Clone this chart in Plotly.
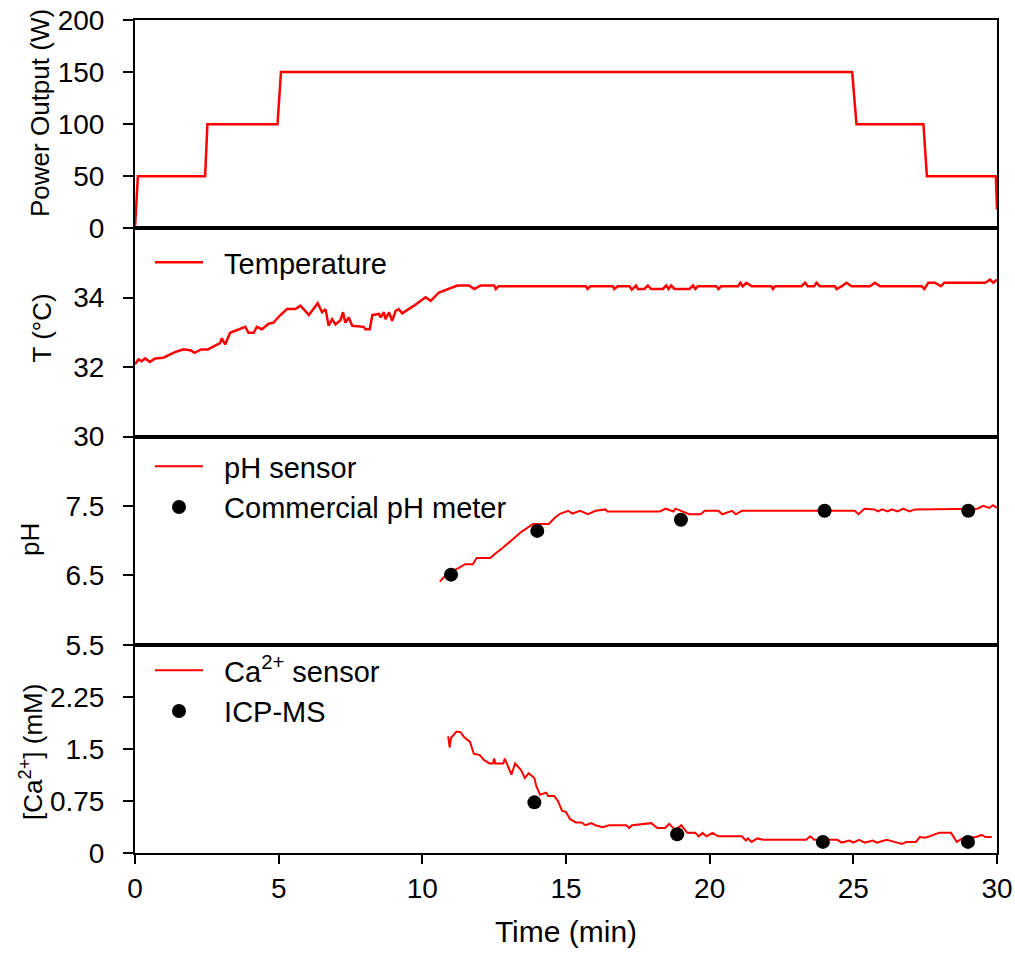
import plotly.graph_objects as go
from plotly.subplots import make_subplots

# ---------------- data ----------------
power_t = [0, 0.1, 2.44, 2.52, 4.96, 5.08, 24.96, 25.11, 27.44, 27.56, 29.96, 30.0]
power_w = [0, 50, 50, 100, 100, 150, 150, 100, 100, 50, 50, 18]

temp_t = [0, 0.12, 0.23, 0.35, 0.52, 0.7, 0.99, 1.22, 1.39, 1.69, 1.95, 2.07, 2.3, 2.53,
          2.96, 3.02, 3.14, 3.31, 3.6, 3.84, 3.95, 4.13, 4.24, 4.42, 4.65, 4.82, 5.06,
          5.29, 5.58, 5.76, 6.05, 6.36, 6.51, 6.63, 6.74, 6.86, 6.98, 7.15, 7.24, 7.32,
          7.44, 7.56, 7.96, 8.02, 8.17, 8.26, 8.49, 8.55, 8.66, 8.72, 8.84, 8.95, 9.07,
          9.18, 9.3, 9.47, 9.71, 10.11, 10.29, 10.58, 10.81, 11.22, 11.63, 11.8, 12.03,
          12.5, 12.56, 12.65, 15.7, 15.75, 15.85, 16.63, 16.68, 16.8, 17.21, 17.29, 17.38,
          17.44, 17.5, 17.73, 17.85, 17.96, 18.37, 18.49, 18.57, 18.66, 18.78, 19.3, 19.42,
          19.5, 19.6, 20.23, 20.31, 20.4, 20.99, 21.07, 21.15, 21.28, 21.46, 22.15, 22.2,
          22.28, 23.2, 23.32, 23.41, 23.64, 23.72, 23.83, 24.36, 24.42, 24.6, 24.76, 24.94,
          25.58, 25.75, 25.93, 27.38, 27.47, 27.61, 27.84, 28.05, 28.17, 29.59, 29.76,
          29.87, 30.0]
temp_c = [32.08, 32.22, 32.17, 32.25, 32.15, 32.25, 32.27, 32.36, 32.43, 32.51, 32.48,
          32.41, 32.51, 32.51, 32.69, 32.83, 32.65, 32.99, 33.09, 33.16, 32.99, 32.99,
          33.16, 33.09, 33.25, 33.28, 33.5, 33.67, 33.67, 33.77, 33.5, 33.84, 33.58, 33.67,
          33.19, 33.38, 33.23, 33.35, 33.58, 33.28, 33.43, 33.19, 33.16, 33.09, 33.09,
          33.5, 33.53, 33.43, 33.58, 33.38, 33.58, 33.33, 33.62, 33.67, 33.55, 33.64,
          33.77, 34.01, 33.91, 34.15, 34.22, 34.35, 34.35, 34.25, 34.35, 34.35, 34.25,
          34.33, 34.33, 34.25, 34.33, 34.33, 34.25, 34.33, 34.33, 34.23, 34.3, 34.35,
          34.25, 34.25, 34.35, 34.25, 34.25, 34.35, 34.25, 34.35, 34.25, 34.25, 34.35,
          34.25, 34.33, 34.33, 34.25, 34.33, 34.33, 34.43, 34.33, 34.43, 34.33, 34.33,
          34.25, 34.33, 34.33, 34.43, 34.33, 34.33, 34.43, 34.33, 34.33, 34.25, 34.33,
          34.43, 34.33, 34.33, 34.43, 34.33, 34.33, 34.25, 34.43, 34.43, 34.33, 34.43,
          34.43, 34.52, 34.43, 34.52]

ph_t = [10.61, 10.88, 11.29, 11.49, 11.76, 11.89, 12.37, 12.5, 12.78, 13.18, 13.46, 13.86,
        14.4, 14.61, 14.81, 15.08, 15.22, 15.49, 15.76, 16.03, 16.37, 16.44, 18.27, 18.47,
        18.74, 18.81, 19.02, 19.29, 19.69, 19.83, 20.3, 20.44, 20.78, 20.91, 21.12, 25.05,
        25.18, 25.39, 25.73, 25.86, 26.0, 26.2, 26.33, 26.54, 26.74, 26.95, 27.15, 29.32,
        29.52, 29.73, 29.86, 30.0]
ph_v = [6.41, 6.53, 6.61, 6.66, 6.66, 6.75, 6.75, 6.8, 6.89, 7.03, 7.13, 7.24, 7.24, 7.33,
        7.39, 7.43, 7.39, 7.43, 7.38, 7.43, 7.45, 7.42, 7.42, 7.46, 7.42, 7.46, 7.42, 7.38,
        7.38, 7.43, 7.43, 7.38, 7.43, 7.38, 7.43, 7.43, 7.38, 7.46, 7.45, 7.42, 7.45, 7.42,
        7.45, 7.42, 7.46, 7.42, 7.45, 7.46, 7.5, 7.47, 7.51, 7.47]

meter_t = [11, 14, 19, 24, 29]
meter_ph = [6.51, 7.14, 7.3, 7.43, 7.43]

ca_t = [10.9, 10.95, 11.0, 11.19, 11.33, 11.45, 11.66, 11.79, 12.0, 12.14, 12.34, 12.46,
        12.5, 12.54, 12.82, 12.87, 13.1, 13.23, 13.43, 13.57, 13.7, 13.9, 13.97, 14.1,
        14.31, 14.38, 14.59, 14.72, 14.86, 15.0, 15.14, 15.34, 15.54, 15.68, 15.88, 16.02,
        16.28, 16.5, 17.1, 17.2, 17.3, 17.97, 18.18, 18.45, 18.59, 18.81, 19.01, 19.22,
        19.5, 19.62, 19.75, 19.89, 20.1, 20.3, 21.12, 21.26, 21.33, 21.46, 21.66, 21.87,
        23.36, 23.5, 23.64, 24.45, 24.59, 24.87, 25.0, 25.2, 25.4, 25.68, 25.82, 26.16,
        26.43, 26.7, 26.84, 27.18, 27.31, 27.52, 27.72, 27.99, 28.4, 28.6, 28.8, 29.27,
        29.47, 29.6, 29.82]
ca_mm = [1.68, 1.52, 1.66, 1.75, 1.74, 1.67, 1.6, 1.43, 1.41, 1.34, 1.29, 1.29, 1.36, 1.29,
         1.29, 1.36, 1.13, 1.29, 1.2, 1.08, 1.15, 1.08, 0.96, 0.84, 0.87, 0.82, 0.82, 0.75,
         0.61, 0.59, 0.49, 0.44, 0.44, 0.4, 0.43, 0.4, 0.37, 0.4, 0.4, 0.36, 0.4, 0.43, 0.36,
         0.36, 0.42, 0.33, 0.4, 0.29, 0.29, 0.24, 0.29, 0.24, 0.29, 0.24, 0.24, 0.18, 0.21,
         0.16, 0.21, 0.19, 0.19, 0.24, 0.19, 0.19, 0.15, 0.18, 0.15, 0.19, 0.15, 0.18, 0.15,
         0.19, 0.16, 0.13, 0.16, 0.16, 0.23, 0.22, 0.25, 0.29, 0.29, 0.16, 0.21, 0.23, 0.26,
         0.23, 0.23]

icp_t = [13.9, 18.87, 23.94, 28.99]
icp_mm = [0.73, 0.27, 0.16, 0.16]

x_ticks = [0, 5, 10, 15, 20, 25, 30]
power_ticks = [0, 50, 100, 150, 200]
temp_ticks = [30, 32, 34]
ph_ticks = [5.5, 6.5, 7.5]
ca_ticks = [0, 0.75, 1.5, 2.25]
ca_ticktext = ["0", "0.75", "1.5", "2.25"]

y_titles = ["Power Output (W)", "T (°C)", "pH", "[Ca<sup>2+</sup>] (mM)"]

# ---------------- figure ----------------
FONT = "Liberation Sans, Arial, sans-serif"
RED = "#ff0000"
TICK_SIZE = 28
NB = "\u00a0\u00a0"

fig = make_subplots(rows=4, cols=1, shared_xaxes=True, vertical_spacing=0)

fig.add_trace(go.Scatter(x=power_t, y=power_w, mode="lines", line=dict(color=RED, width=2.5),
                         showlegend=False), row=1, col=1)
fig.add_trace(go.Scatter(x=temp_t, y=temp_c, mode="lines", line=dict(color=RED, width=2.5),
                         name=NB + "Temperature", legend="legend"), row=2, col=1)
fig.add_trace(go.Scatter(x=ph_t, y=ph_v, mode="lines", line=dict(color=RED, width=2),
                         name=NB + "pH sensor", legend="legend2"), row=3, col=1)
fig.add_trace(go.Scatter(x=meter_t, y=meter_ph, mode="markers",
                         marker=dict(color="black", size=14),
                         name=NB + "Commercial pH meter", legend="legend2"), row=3, col=1)
fig.add_trace(go.Scatter(x=ca_t, y=ca_mm, mode="lines", line=dict(color=RED, width=2),
                         name=NB + "Ca<sup>2+</sup> sensor", legend="legend3"), row=4, col=1)
fig.add_trace(go.Scatter(x=icp_t, y=icp_mm, mode="markers",
                         marker=dict(color="black", size=14),
                         name=NB + "ICP-MS", legend="legend3"), row=4, col=1)

axis_common = dict(showline=True, linecolor="black", linewidth=2, mirror=True,
                   showgrid=False, zeroline=False, automargin=False,
                   tickfont=dict(family=FONT, size=TICK_SIZE, color="black"))

for r in range(1, 5):
    fig.update_xaxes(range=[0, 30], row=r, col=1, **axis_common)
fig.update_xaxes(tickvals=x_ticks, ticks="outside", ticklen=9, tickwidth=2,
                 tickcolor="black", showticklabels=True,
                 title=dict(text="Time (min)", font=dict(family=FONT, size=30, color="black"),
                            standoff=18),
                 row=4, col=1)

ycommon = dict(ticks="outside", ticklen=10, tickwidth=2, tickcolor="black",
               ticklabelstandoff=13, **axis_common)
fig.update_yaxes(range=[0, 200], tickvals=power_ticks, row=1, col=1, **ycommon)
fig.update_yaxes(range=[30, 36], tickvals=temp_ticks, row=2, col=1, **ycommon)
fig.update_yaxes(range=[5.5, 8.5], tickvals=ph_ticks, row=3, col=1, **ycommon)
fig.update_yaxes(range=[0, 3], tickvals=ca_ticks, ticktext=ca_ticktext, row=4, col=1, **ycommon)

# y-axis titles placed as rotated annotations (paper coords)
title_x = [-0.1102, -0.1079, -0.1218, -0.1195]
title_y = [0.8884, 0.6309, 0.3758, 0.1213]
for txt, tx, ty in zip(y_titles, title_x, title_y):
    fig.add_annotation(text=txt, x=tx, y=ty, xref="paper", yref="paper",
                       xanchor="center", yanchor="middle", textangle=-90,
                       showarrow=False, font=dict(family=FONT, size=26, color="black"))

legfont = dict(family=FONT, size=29, color="black")
leg = dict(xanchor="left", yanchor="top", bgcolor="rgba(0,0,0,0)", borderwidth=0,
           font=legfont, itemsizing="trace", tracegroupgap=0, itemwidth=48)
fig.update_layout(
    width=1015, height=953,
    margin=dict(l=135, r=18, t=20, b=100),
    paper_bgcolor="white", plot_bgcolor="white",
    font=dict(family=FONT, size=26, color="black"),
    legend=dict(x=0.0174, y=0.7395, **leg),
    legend2=dict(x=0.0174, y=0.4946, **leg),
    legend3=dict(x=0.0174, y=0.2497, **leg),
)

fig.write_html("out.html")
